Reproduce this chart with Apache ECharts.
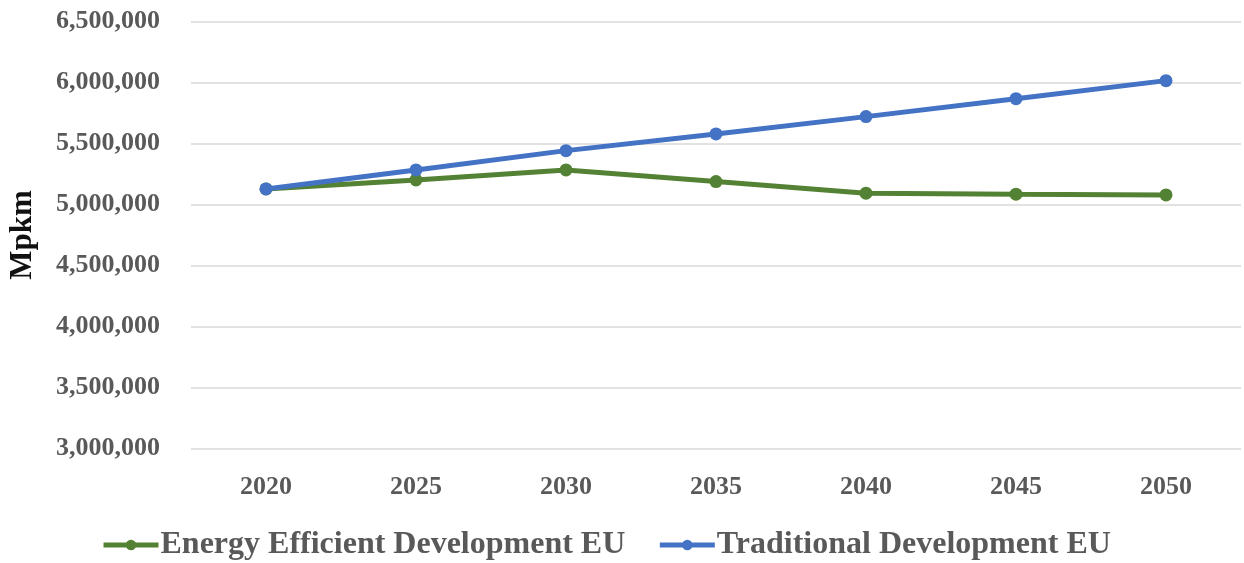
<!DOCTYPE html>
<html>
<head>
<meta charset="utf-8">
<script src="https://cdn.jsdelivr.net/npm/echarts@6/dist/echarts.min.js"></script>
<style>html,body{margin:0;padding:0;background:#fff}#c{width:1244px;height:563px}</style>
</head>
<body>
<div id="c"></div>
<script>
const categories = ['2020','2025','2030','2035','2040','2045','2050'];
const energyEfficient = [5127000, 5201000, 5283000, 5187000, 5092000, 5084000, 5078000];
const traditional = [5127000, 5283000, 5441000, 5578000, 5720000, 5867000, 6015000];
const seriesNames = ['Energy Efficient Development EU', 'Traditional Development EU'];
const yAxisName = 'Mpkm';

const font = 'Liberation Serif';
const chart = echarts.init(document.getElementById('c'), null, {renderer: 'canvas'});
chart.setOption({
  animation: false,
  backgroundColor: '#fff',
  grid: {left: 191, right: 3, top: 21.5, bottom: 114.7, containLabel: false, outerBoundsMode: 'none'},
  legend: {
    top: 524,
    left: 96,
    itemWidth: 55,
    itemHeight: 13,
    itemGap: 32,
    lineStyle: {width: 5},
    textStyle: {fontFamily: font, fontWeight: 'bold', fontSize: 32, color: '#595959', padding: [0, 0, 0, -3]},
    data: seriesNames
  },
  xAxis: {
    type: 'category',
    data: categories,
    boundaryGap: true,
    axisLine: {show: false},
    axisTick: {show: false},
    axisLabel: {fontFamily: font, fontWeight: 'bold', fontSize: 26, color: '#595959', margin: 26}
  },
  yAxis: {
    type: 'value',
    min: 3000000,
    max: 6500000,
    interval: 500000,
    name: yAxisName,
    nameLocation: 'middle',
    nameRotate: 90,
    nameGap: 153,
    nameTextStyle: {fontFamily: font, fontWeight: 'bold', fontSize: 31, color: '#111'},
    axisLine: {show: false},
    axisTick: {show: false},
    splitLine: {lineStyle: {color: '#d9d9d9', width: 1.5}},
    axisLabel: {
      fontFamily: font, fontWeight: 'bold', fontSize: 26, color: '#595959', margin: 31,
      formatter: v => v.toLocaleString('en-US')
    }
  },
  series: [
    {
      name: seriesNames[0], type: 'line', data: energyEfficient,
      symbol: 'circle', symbolSize: 13,
      lineStyle: {color: '#548235', width: 5},
      itemStyle: {color: '#548235'}
    },
    {
      name: seriesNames[1], type: 'line', data: traditional,
      symbol: 'circle', symbolSize: 13,
      lineStyle: {color: '#4472C4', width: 5},
      itemStyle: {color: '#4472C4'}
    }
  ]
});
</script>
</body>
</html>
